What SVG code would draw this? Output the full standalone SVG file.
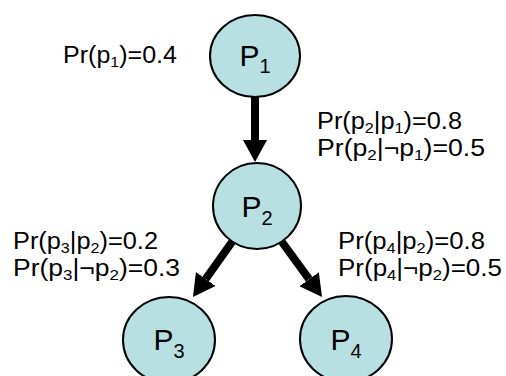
<svg xmlns="http://www.w3.org/2000/svg" width="506" height="376" viewBox="0 0 506 376">
  <style>
    .node { fill: #b8dfe1; stroke: #000; stroke-width: 2; }
    .nlabel { font-family: "Liberation Sans", Arial, sans-serif; font-size: 30px; fill: #000; text-anchor: middle; }
    .sub { font-size: 20px; }
    .prob { font-family: "Liberation Sans", Arial, sans-serif; font-size: 23.5px; fill: #000; }
    .psub { font-size: 15px; }
    .edge { stroke: #000; stroke-width: 8; fill: none; }
  </style>
  <defs>
    <marker id="head" markerUnits="userSpaceOnUse" markerWidth="22" markerHeight="24" refX="0" refY="12" orient="auto" viewBox="0 0 22 24">
      <path d="M0,0 L22,12 L0,24 z" fill="#000"/>
    </marker>
  </defs>
  <rect x="0" y="0" width="506" height="376" fill="#fff"/>
  <g id="connectors">
    <line class="edge" x1="255" y1="97" x2="255" y2="140" marker-end="url(#head)"/>
    <line class="edge" x1="232" y1="242" x2="205.7" y2="279" marker-end="url(#head)"/>
    <line class="edge" x1="282" y1="242" x2="309.1" y2="279.2" marker-end="url(#head)"/>
  </g>
  <g id="P1">
    <ellipse class="node" cx="255" cy="56" rx="45" ry="41"/>
    <text class="nlabel" x="255" y="66">P<tspan class="sub" dy="7">1</tspan></text>
  </g>
  <g id="P2">
    <ellipse class="node" cx="257" cy="206" rx="44" ry="43"/>
    <text class="nlabel" x="257" y="217">P<tspan class="sub" dy="8">2</tspan></text>
  </g>
  <g id="P3">
    <ellipse class="node" cx="169" cy="340" rx="46" ry="43"/>
    <text class="nlabel" x="169" y="350">P<tspan class="sub" dy="8">3</tspan></text>
  </g>
  <g id="P4">
    <ellipse class="node" cx="346" cy="339" rx="46" ry="43"/>
    <text class="nlabel" x="346" y="350">P<tspan class="sub" dy="8">4</tspan></text>
  </g>
  <g id="labels">
    <text class="prob" x="63" y="63" textLength="114" lengthAdjust="spacingAndGlyphs">Pr(p<tspan class="psub" dy="4">1</tspan><tspan dy="-4">)=0.4</tspan></text>
    <text class="prob" x="317" y="129" textLength="145" lengthAdjust="spacingAndGlyphs">Pr(p<tspan class="psub" dy="4">2</tspan><tspan dy="-4">|p</tspan><tspan class="psub" dy="4">1</tspan><tspan dy="-4">)=0.8</tspan></text>
    <text class="prob" x="317" y="156" textLength="168" lengthAdjust="spacingAndGlyphs">Pr(p<tspan class="psub" dy="4">2</tspan><tspan dy="-4">|¬p</tspan><tspan class="psub" dy="4">1</tspan><tspan dy="-4">)=0.5</tspan></text>
    <text class="prob" x="13" y="249" textLength="145" lengthAdjust="spacingAndGlyphs">Pr(p<tspan class="psub" dy="4">3</tspan><tspan dy="-4">|p</tspan><tspan class="psub" dy="4">2</tspan><tspan dy="-4">)=0.2</tspan></text>
    <text class="prob" x="13" y="276" textLength="167" lengthAdjust="spacingAndGlyphs">Pr(p<tspan class="psub" dy="4">3</tspan><tspan dy="-4">|¬p</tspan><tspan class="psub" dy="4">2</tspan><tspan dy="-4">)=0.3</tspan></text>
    <text class="prob" x="338" y="249" textLength="147" lengthAdjust="spacingAndGlyphs">Pr(p<tspan class="psub" dy="4">4</tspan><tspan dy="-4">|p</tspan><tspan class="psub" dy="4">2</tspan><tspan dy="-4">)=0.8</tspan></text>
    <text class="prob" x="338" y="276" textLength="164" lengthAdjust="spacingAndGlyphs">Pr(p<tspan class="psub" dy="4">4</tspan><tspan dy="-4">|¬p</tspan><tspan class="psub" dy="4">2</tspan><tspan dy="-4">)=0.5</tspan></text>
  </g>
</svg>
